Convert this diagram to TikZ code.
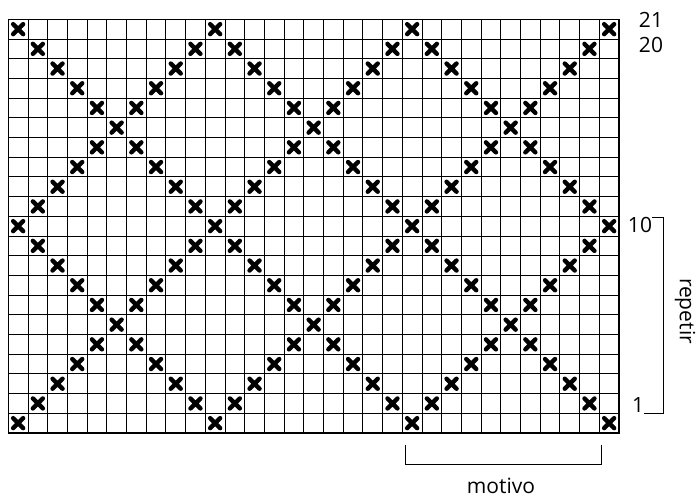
\documentclass[tikz,border=0pt]{standalone}
\usepackage{fontspec}
\setmainfont{Open Sans}
\begin{document}
\begin{tikzpicture}[x=1pt,y=-1pt,
  gridline/.style={line width=0.9pt,black},
  border/.style={line width=1.4pt,black},
  xstroke/.style={line width=4.4pt,line cap=round,black},
  xm/.pic={\draw[xstroke] (-5,-5)--(5,5) (-5,5)--(5,-5);},
  lbl/.style={font=\fontsize{21}{25}\selectfont,inner sep=0pt},
  bracket/.style={line width=0.9pt,black}]
\useasboundingbox (0,0) rectangle (699,497);
\def\xo{8.3}\def\yo{19.3}\def\cs{19.7}
% grid
\foreach \i in {0,...,31}
  \draw[gridline] (\xo+\i*\cs,\yo) -- (\xo+\i*\cs,\yo+21*\cs);
\foreach \j in {0,...,21}
  \draw[gridline] (\xo,\yo+\j*\cs) -- (\xo+31*\cs,\yo+\j*\cs);
\draw[border] (\xo,\yo) rectangle (\xo+31*\cs,\yo+21*\cs);
% crosses
\foreach \r in {1,...,21}{
  \foreach \c in {1,...,31}{
    \pgfmathtruncatemacro\ma{mod(\c-\r+100,10)}
    \pgfmathtruncatemacro\mb{mod(\c+\r-2,10)}
    \pgfmathtruncatemacro\ok{(\ma==0)||(\mb==0)}
    \ifnum\ok=1
      \pic at (\xo+\c*\cs-0.5*\cs,\yo+21*\cs-\r*\cs+0.5*\cs) {xm};
    \fi
  }
}
% labels
\node[lbl] (l21) at (651,20) {21};
\node[lbl] (l20) at (651,45) {20};
\node[lbl] (l10) at (640,225) {10};
\node[lbl] (l1) at (638,405) {1};
% right bracket
\coordinate (rt1) at (652,217);
\coordinate (rt2) at (663,217);
\coordinate (rb2) at (663,413);
\coordinate (rb1) at (644,413);
\draw[bracket] (rt1) -- (rt2) -- (rb2) -- (rb1);
\node[lbl,rotate=-90] (rep) at (685,311) {repetir};
% bottom bracket
\coordinate (bl1) at (405,445);
\coordinate (bl2) at (405,464);
\coordinate (br2) at (601,464);
\coordinate (br1) at (601,445);
\draw[bracket] (bl1) -- (bl2) -- (br2) -- (br1);
\node[lbl,anchor=base] (mot) at (501,493) {motivo};
\end{tikzpicture}
\end{document}
